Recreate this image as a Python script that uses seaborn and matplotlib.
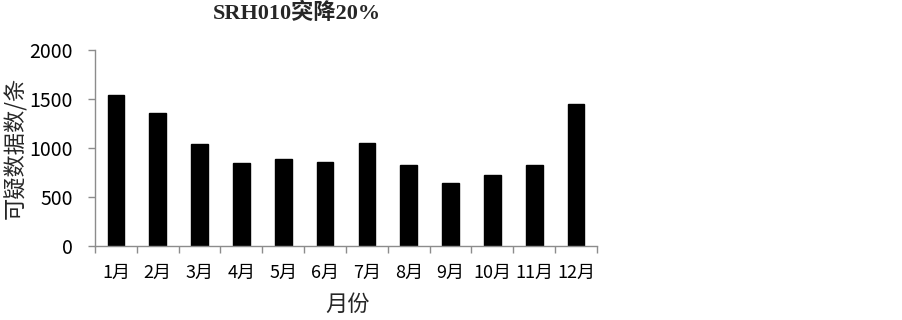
import matplotlib
matplotlib.use("Agg")
import matplotlib.pyplot as plt
import seaborn as sns
import pandas as pd
import numpy as np
from matplotlib.ticker import FixedLocator

months = ["1月", "2月", "3月", "4月", "5月", "6月", "7月", "8月", "9月", "10月", "11月", "12月"]
counts = [1537, 1361, 1041, 851, 889, 855, 1047, 824, 642, 726, 831, 1449]
y_ticks = [0, 500, 1000, 1500, 2000]

sns.set_theme(style="white")
plt.rcParams['font.family'] = ['Noto Sans CJK SC', 'DejaVu Sans']

df = pd.DataFrame({"month": months, "count": counts})

fig = plt.figure(figsize=(9.03, 3.2), dpi=100)
ax = fig.add_axes([95/903, 1-246/320, (597-95)/903, (246-50)/320])

sns.barplot(data=df, x="month", y="count", color="black", width=0.4,
            saturation=1, ax=ax, edgecolor="black")

ax.set_xlim(-0.5, len(months) - 0.5)
ax.set_ylim(0, 2000)
ax.set_yticks(y_ticks)

gray = "#8c8c8c"
for s in ["top", "right"]:
    ax.spines[s].set_visible(False)
for s in ["left", "bottom"]:
    ax.spines[s].set_color(gray)
    ax.spines[s].set_linewidth(1.0)

ax.xaxis.set_minor_locator(FixedLocator(np.arange(-0.5, len(months), 1.0)))
ax.tick_params(axis="x", which="major", length=0, pad=13, labelsize=13, colors="black")
ax.tick_params(axis="x", which="minor", bottom=True, length=5, width=1, color=gray, direction="out")
ax.tick_params(axis="y", which="major", left=True, length=5, width=1, color=gray,
               direction="out", pad=11, labelsize=14, labelcolor="black")

ax.set_xlabel("月份", fontsize=16, va="center")
ax.xaxis.set_label_coords((348 - 95) / 502, (246 - 304) / 196)
ax.set_ylabel("可疑数据数/条", fontsize=16, fontweight="medium", va="center")
ax.yaxis.set_label_coords((16 - 95) / 502, (246 - 148) / 196)

fig.text(297/903, 1-13/320, "SRH010突降20%", ha="center", va="center",
         fontsize=16, fontweight="bold",
         family=["Liberation Serif", "Noto Sans CJK SC"])

fig.savefig("out.png", dpi=100, facecolor="white")
